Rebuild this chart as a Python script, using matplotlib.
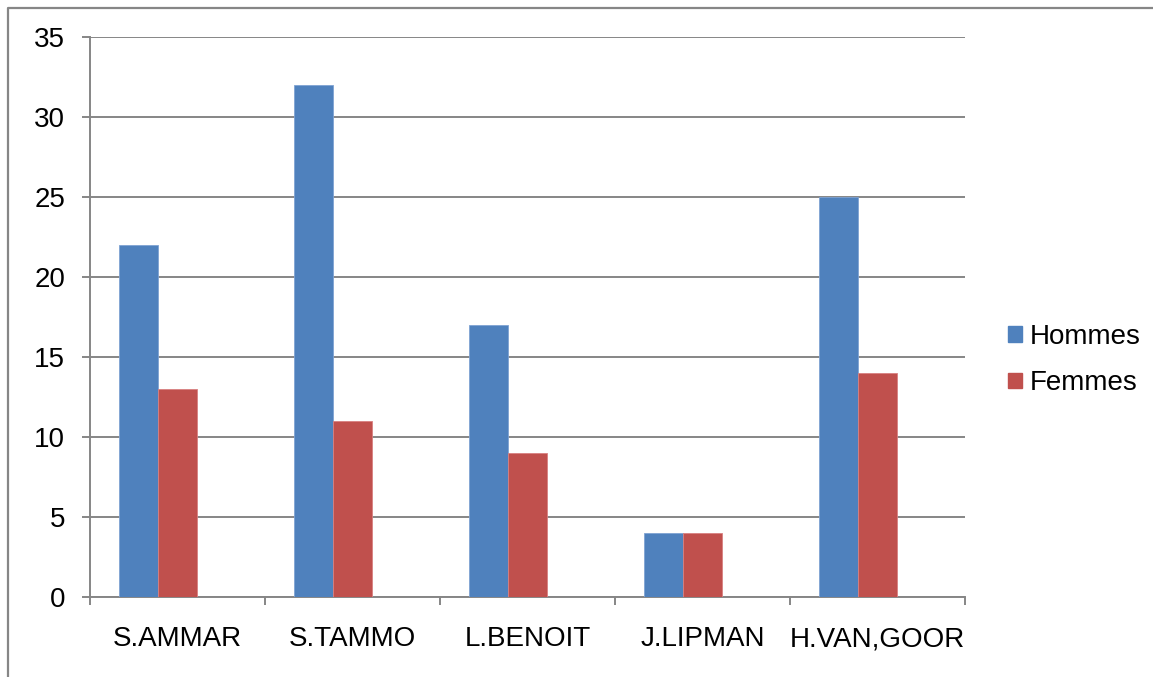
import matplotlib.pyplot as plt
import numpy as np
from matplotlib.lines import Line2D
from matplotlib.patches import Patch

plt.rcParams['font.family'] = ['Liberation Sans', 'DejaVu Sans']

noms = ['S.AMMAR', 'S.TAMMO', 'L.BENOIT', 'J.LIPMAN', 'H.VAN,GOOR']
hommes = [22, 32, 17, 4, 25]
femmes = [13, 11, 9, 4, 14]

bleu = '#4F81BD'
rouge = '#C0504D'
gris = '#868686'

fig = plt.figure(figsize=(11.53, 6.77), dpi=100)
ax = fig.add_axes([90/1153, 80/677, 875/1153, 560/677])

x = np.arange(len(noms))
w = 39/175
ax.bar(x - w, hommes, w, color=bleu, edgecolor='#7fa3d3', linewidth=0.6, zorder=3)
ax.bar(x, femmes, w, color=rouge, edgecolor='#d88080', linewidth=0.6, zorder=3)

ax.set_xlim(-0.5, len(noms) - 0.5)
ax.set_ylim(0, 35)
ax.set_yticks(range(0, 36, 5))
ax.yaxis.grid(True, color=gris, linewidth=1.4, zorder=0)
ax.set_axisbelow(True)

ax.set_xticks(np.arange(-0.5, len(noms), 1))
ax.set_xticklabels([])
ax.set_xticks(x, minor=True)
ax.set_xticklabels(noms, minor=True)
ax.tick_params(axis='x', which='minor', length=0, pad=21, labelsize=20)
ax.tick_params(axis='x', which='major', length=6, width=1.4, color=gris)
ax.tick_params(axis='y', length=6, width=1.4, color=gris, pad=12, labelsize=20)

for s in ['top', 'right']:
    ax.spines[s].set_visible(False)
for s in ['left', 'bottom']:
    ax.spines[s].set_color(gris)
    ax.spines[s].set_linewidth(1.4)

handles = [Patch(color=bleu), Patch(color=rouge)]
fig.legend(handles, ['Hommes', 'Femmes'], loc='center left',
           bbox_to_anchor=(994/1153, 1 - 360/677), frameon=False,
           fontsize=20, borderpad=0, handlelength=0.5, handleheight=0.5,
           handletextpad=0.3, labelspacing=0.75)

# cadre du graphique
fig.add_artist(Line2D([8/1153, 8/1153, 1.0], [0.0, 1 - 8/677, 1 - 8/677],
                      transform=fig.transFigure, color=gris, linewidth=1.6))

fig.savefig('out.png', dpi=100)
